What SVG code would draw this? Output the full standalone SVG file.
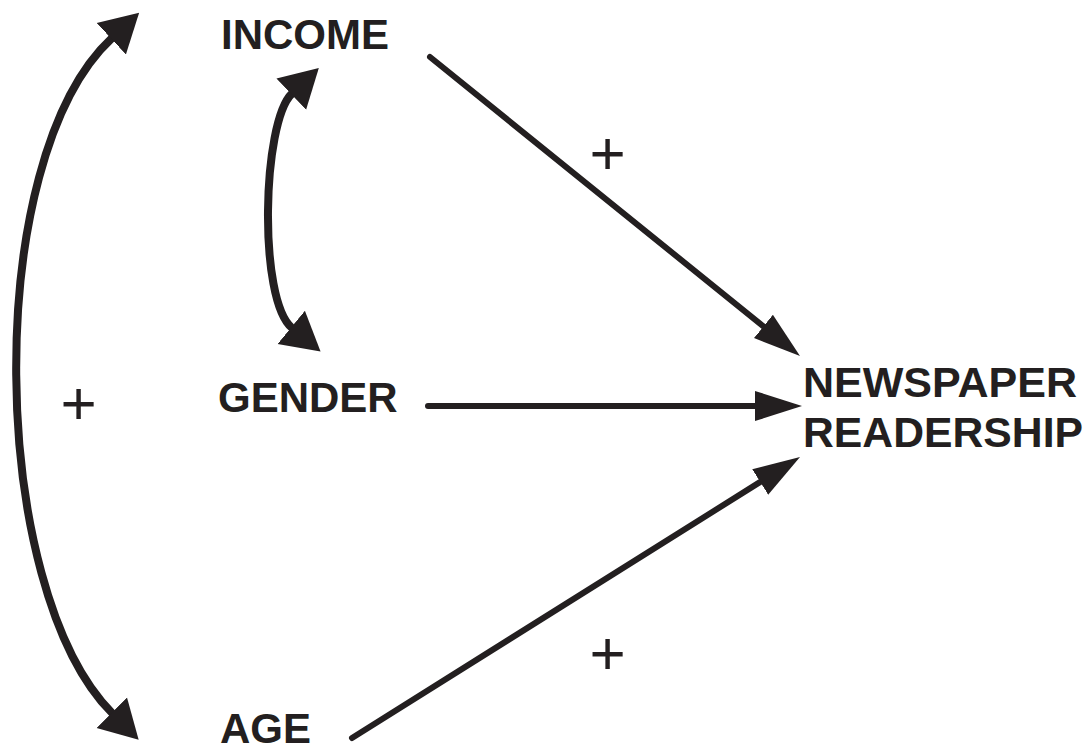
<svg xmlns="http://www.w3.org/2000/svg" width="1087" height="749" viewBox="0 0 1087 749">
  <style>
    .lbl { font-family: "Liberation Sans", Arial, sans-serif; font-weight: bold; font-size: 42px; fill: #231f20; }
    .sign { font-family: "Liberation Sans", Arial, sans-serif; font-size: 62px; fill: #231f20; text-anchor: middle; }
    .str { fill: none; stroke: #231f20; stroke-width: 6; stroke-linecap: round; }
    .crv { fill: none; stroke: #231f20; stroke-width: 8; }
  </style>
  <defs>
    <marker id="headS" markerUnits="userSpaceOnUse" markerWidth="60" markerHeight="40" viewBox="0 -20 60 40" refX="2" refY="0" orient="auto-start-reverse">
      <path d="M0,-15 L47,0 L0,15 Z" fill="#231f20"/>
    </marker>
    <marker id="headC" markerUnits="userSpaceOnUse" markerWidth="50" markerHeight="50" viewBox="0 -25 50 50" refX="1" refY="0" orient="auto-start-reverse">
      <path d="M0,-21.5 L38,0 L0,21.5 Z" fill="#231f20"/>
    </marker>
  </defs>
  <rect width="1087" height="749" fill="#ffffff"/>

  <g id="income"><text class="lbl" x="221" y="49">INCOME</text></g>
  <g id="gender"><text class="lbl" x="218" y="412">GENDER</text></g>
  <g id="age"><text class="lbl" x="220" y="743">AGE</text></g>
  <g id="readership">
    <text class="lbl" x="803" y="397" font-size="39" textLength="274" lengthAdjust="spacingAndGlyphs">NEWSPAPER</text>
    <text class="lbl" x="803" y="447" font-size="39" textLength="280" lengthAdjust="spacingAndGlyphs">READERSHIP</text>
  </g>

  <g id="connectors">
    <path class="str" d="M430,57 L765,327.7" marker-end="url(#headS)"/>
    <path class="str" d="M428,406 L757,406" marker-end="url(#headS)"/>
    <path class="str" d="M352,738 L761.9,480.9" marker-end="url(#headS)"/>
    <path class="crv" d="M292,93.5 C262,122 258,300 292,328" marker-start="url(#headC)" marker-end="url(#headC)"/>
    <path class="crv" d="M112,38 C-19.6,160 -12,589 112.5,713.5" marker-start="url(#headC)" marker-end="url(#headC)"/>
  </g>

  <g id="signs">
    <text class="sign" x="607.5" y="174.3">+</text>
    <text class="sign" x="78.5" y="424.3">+</text>
    <text class="sign" x="607.5" y="673.8">+</text>
  </g>
</svg>
